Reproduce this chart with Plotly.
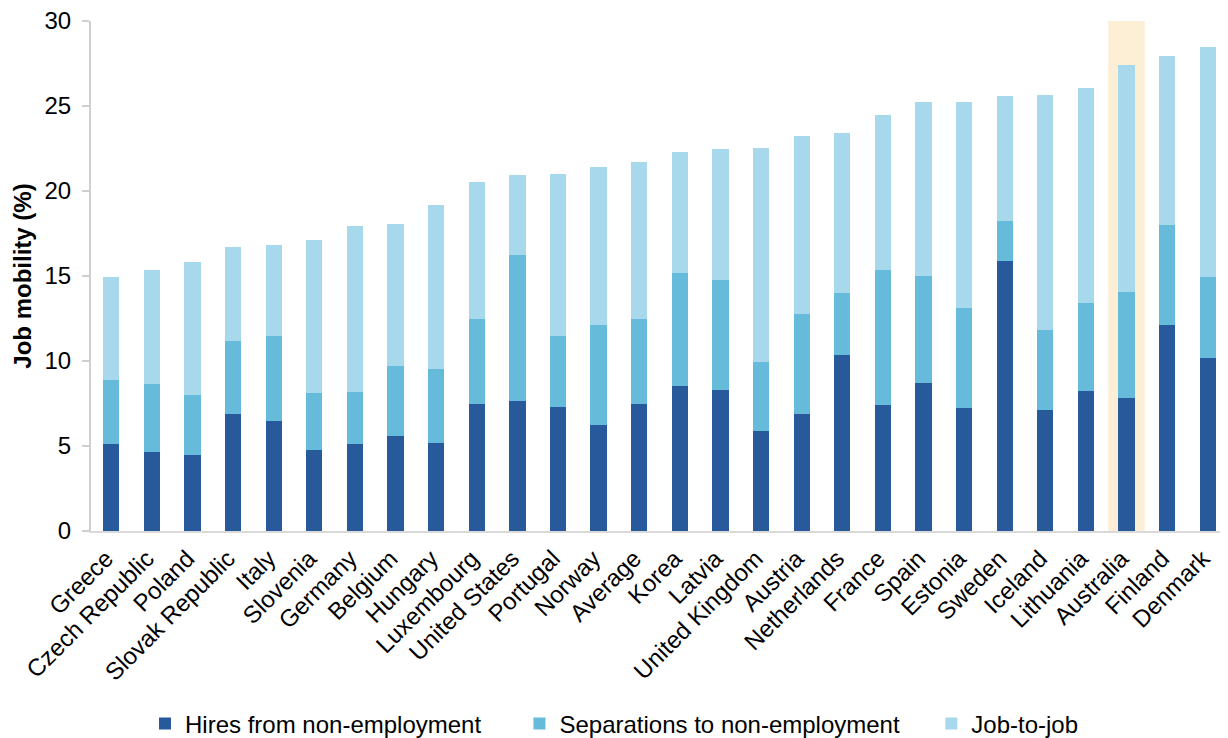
import plotly.graph_objects as go

categories = ["Greece", "Czech Republic", "Poland", "Slovak Republic", "Italy", "Slovenia",
              "Germany", "Belgium", "Hungary", "Luxembourg", "United States", "Portugal",
              "Norway", "Average", "Korea", "Latvia", "United Kingdom", "Austria",
              "Netherlands", "France", "Spain", "Estonia", "Sweden", "Iceland",
              "Lithuania", "Australia", "Finland", "Denmark"]

hires = [5.12, 4.66, 4.49, 6.86, 6.50, 4.78, 5.14, 5.61, 5.18, 7.49, 7.67, 7.27, 6.21, 7.49,
         8.52, 8.32, 5.91, 6.86, 10.38, 7.39, 8.70, 7.21, 15.91, 7.11, 8.22, 7.83, 12.09, 10.18]
hires_plus_sep = [8.89, 8.66, 8.00, 11.19, 11.48, 8.14, 8.20, 9.72, 9.53, 12.49, 16.23, 11.48,
                  12.13, 12.49, 15.16, 14.74, 9.96, 12.77, 14.01, 15.38, 15.00, 13.10, 18.26,
                  11.80, 13.44, 14.07, 18.00, 14.94]
totals = [14.96, 15.36, 15.83, 16.72, 16.82, 17.13, 17.96, 18.06, 19.15, 20.53, 20.95, 21.01,
          21.40, 21.70, 22.29, 22.47, 22.53, 23.22, 23.42, 24.49, 25.22, 25.24, 25.61, 25.65,
          26.07, 27.43, 27.94, 28.46]

separations = [round(b - a, 2) for a, b in zip(hires, hires_plus_sep)]
job_to_job = [round(c - b, 2) for b, c in zip(hires_plus_sep, totals)]

series_names = ["Hires from non-employment", "Separations to non-employment", "Job-to-job"]
series_colors = ["#285A9B", "#66BBDB", "#A7D8EB"]
name_pads = [5, 4, 0]

highlight = "Australia"
y_ticks = [0, 5, 10, 15, 20, 25, 30]

FONT = "Liberation Sans, Arial, sans-serif"

fig = go.Figure()
for vals, name, col, pad in zip([hires, separations, job_to_job], series_names,
                                series_colors, name_pads):
    fig.add_bar(x=categories, y=vals, name=name + "\u00a0" * pad,
                marker=dict(color=col, line=dict(width=0)))

hi = categories.index(highlight)
fig.add_shape(type="rect", xref="x", yref="y", x0=hi - 0.45, x1=hi + 0.45, y0=0, y1=30,
              fillcolor="#FDEFD5", line=dict(width=0), layer="below")

fig.update_layout(
    barmode="stack",
    bargap=0.6,
    width=1228, height=746,
    margin=dict(l=83, r=8, t=13, b=223),
    paper_bgcolor="white", plot_bgcolor="white",
    font=dict(family=FONT, size=24, color="black"),
    legend=dict(orientation="h", x=0.0475, xanchor="left", y=-0.378, yanchor="middle",
                font=dict(size=24), traceorder="normal"),
    xaxis=dict(tickangle=-45, showline=True, linecolor="#D9D9D9", linewidth=2,
               ticks="", tickfont=dict(size=24), range=[-0.5, len(categories) - 0.5],
               ticklabelshift=-5, ticklabelstandoff=2, automargin=False),
    yaxis=dict(range=[0, 30], tickvals=y_ticks, showgrid=False, showline=True,
               linecolor="#CFCFCF", linewidth=2, ticks="outside", ticklen=7,
               tickcolor="#CFCFCF", tickwidth=2, tickfont=dict(size=24),
               ticklabelstandoff=6, ticklabeloverflow="allow", automargin=False,
               title=dict(text="<b>Job mobility (%)</b>", font=dict(size=24), standoff=6),
               zeroline=False),
)

fig.write_html("out.html")
